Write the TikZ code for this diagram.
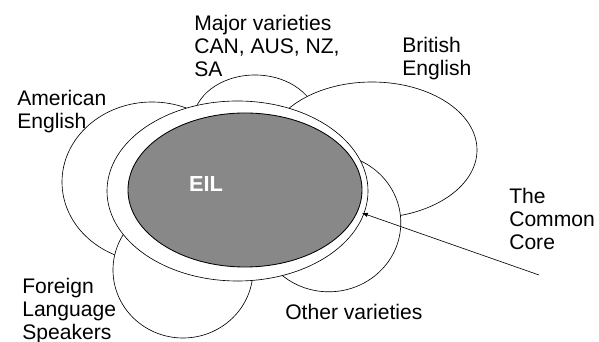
\documentclass[tikz,border=0pt]{standalone}
\usepackage{fontspec}
\setmainfont{Liberation Sans}
\usetikzlibrary{shapes.geometric}
\definecolor{eilGray}{RGB}{136,136,136}

\begin{document}
\begin{tikzpicture}[
		bubble/.style={ellipse, draw, fill=white, line width=0.45pt, inner sep=0pt},
		varietyText/.style={anchor=north west, align=left, inner sep=0pt, font=\fontsize{15}{16.2}\selectfont}
	]
		
		\useasboundingbox (0,0) rectangle (14.975,8.55);
		
		% Varieties
		
		\node[bubble, minimum width = 3.1cm, minimum height = 2.35cm]
		(majorNode) at (6.375,5.5) {};
		
		\node[bubble, minimum width = 4.5cm, minimum height = 4cm]
		(americanNode) at (3.8,4) {};
		
		\node[bubble, minimum width = 5.25cm, minimum height = 3.4cm]
		(britishNode) at (9.3,4.8) {};
		
		\node[bubble, minimum width = 3.5cm, minimum height = 3.4cm]
		(foreignNode) at (4.575,1.8) {};
		
		\node[bubble, minimum width = 3.6cm, minimum height = 3.45cm]
		(otherNode) at (8.22,2.98) {};
		
		% Common core and EIL
		
		\node[bubble, minimum width = 6.525cm, minimum height = 4.5cm]
		(coreNode) at (5.9375,3.775) {};
		
		\node[ellipse, draw, fill=eilGray, line width=0.6pt, inner sep=0pt, minimum width = 5.85cm, minimum height = 3.85cm]
		(eilNode) at (6.125,3.8) {};
		
		\node[text=white, font=\fontsize{15.5}{16}\selectfont\bfseries]
		(eilText) at (5.15,3.95) {EIL};
		
		% Texts
		
		\node[varietyText] (majorText) at (4.85,8.175) {Major varieties\\CAN, AUS, NZ,\\SA};
		\node[varietyText] (britishText) at (10.05,7.625) {British\\English};
		\node[varietyText] (americanText) at (0.425,6.3) {American\\English};
		\node[varietyText] (foreignText) at (0.55,1.6) {Foreign\\Language\\Speakers};
		\node[varietyText] (otherText) at (7.125,0.95) {Other varieties};
		\node[varietyText] (coreText) at (12.725,3.85) {The\\Common\\Core};
		
		% Arrow
		
		\coordinate (coreTail) at (13.475,1.675);
		\coordinate (coreTip) at (9.05,3.225);
		
		\draw[line width=0.45pt, -latex] (coreTail) -- (coreTip);
		
	\end{tikzpicture}
\end{document}
